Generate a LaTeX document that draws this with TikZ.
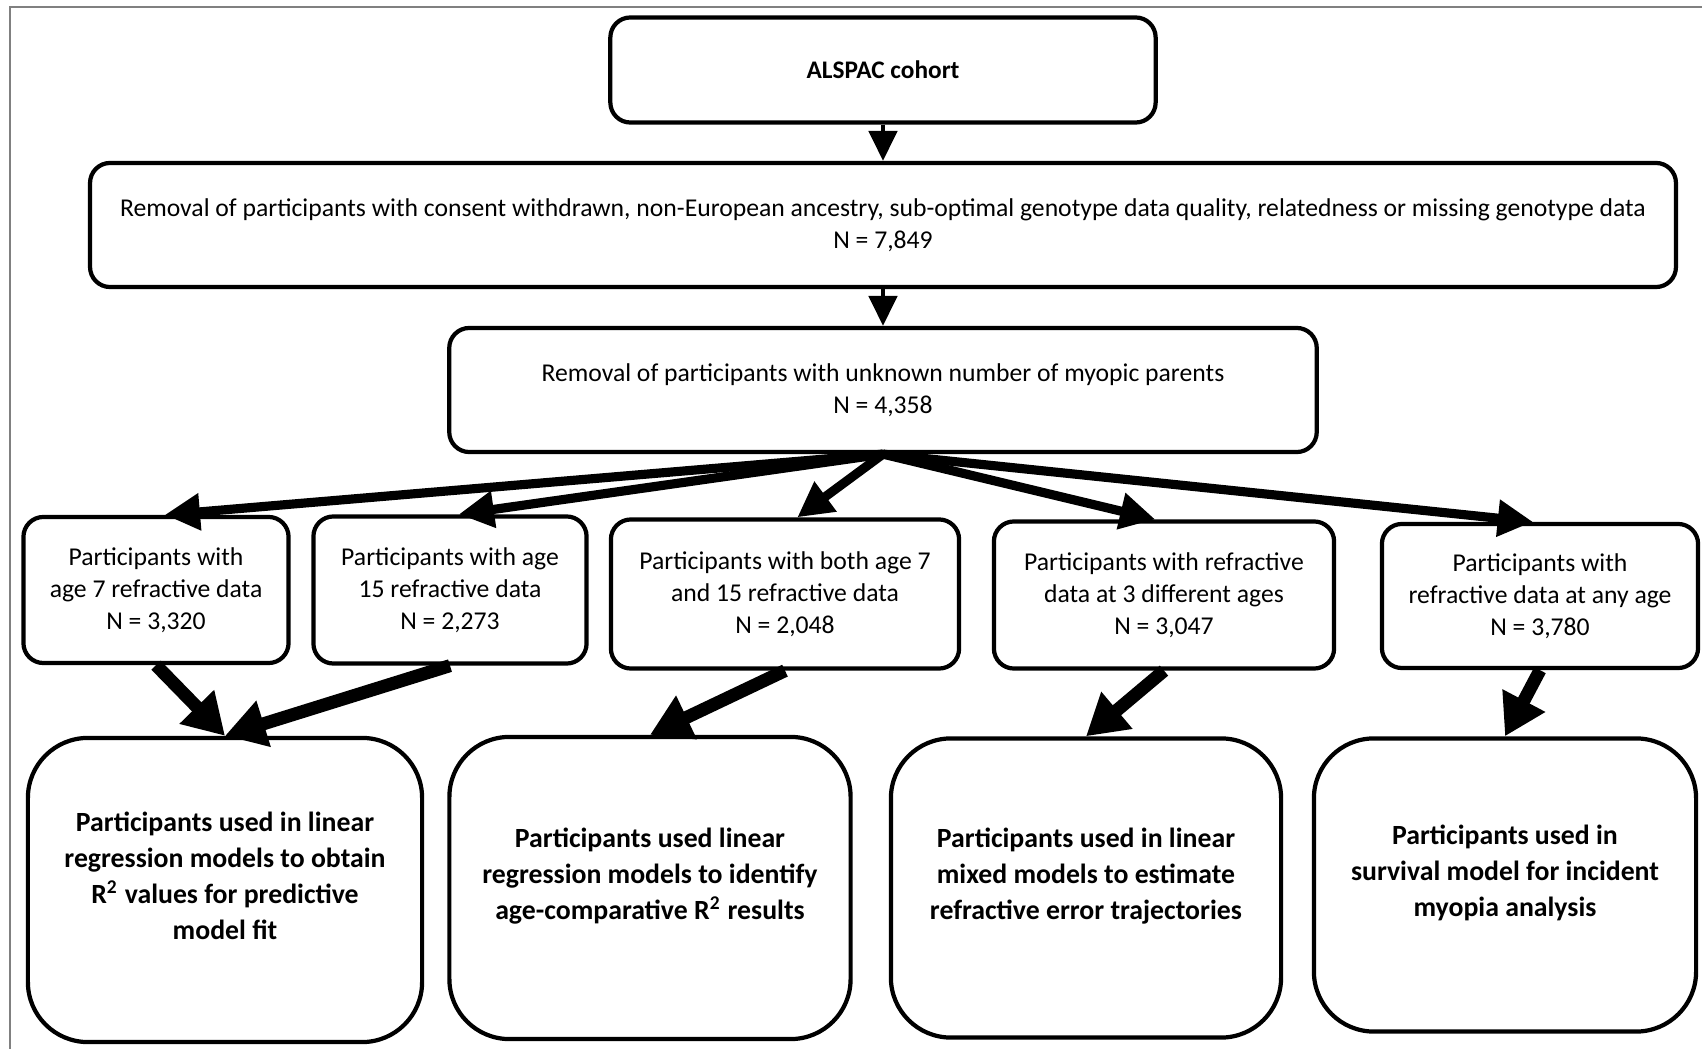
\documentclass[tikz,border=0pt]{standalone}
\usepackage{fontspec}
\setmainfont{Carlito}
\usetikzlibrary{arrows.meta}
\begin{document}
\begin{tikzpicture}[x=0.01cm, y=-0.01cm,
  box/.style={draw, line width=1.2pt, rounded corners=0.2cm, align=center, inner sep=0pt, font=\fontsize{7.3}{9.1}\selectfont},
  bigbox/.style={box, rounded corners=0.6cm, text depth=8pt, font=\fontsize{7.9}{10.2}\selectfont\bfseries},
  thin arrow/.style={-{Triangle[length=8.5pt,width=8pt]}, line width=1.2pt},
  fan arrow/.style={-{Triangle[length=10pt,width=10pt]}, line width=2.6pt},
  fat arrow/.style={-{Triangle[length=11.5pt,width=13pt]}, line width=3.7pt}]
\useasboundingbox (0,0) rectangle (1702,1049);
\draw[gray, line width=0.6pt] (10,1049) -- (10,7) -- (1702,7);
\node[box, minimum width=5.45cm, minimum height=1.05cm, font=\fontsize{7.2}{9}\selectfont\bfseries] (alspac) at (883,70) {ALSPAC cohort};
\node[box, minimum width=15.85cm, minimum height=1.24cm] (qc) at (883,225) {Removal of participants with consent withdrawn, non-European ancestry, sub-optimal genotype data quality, relatedness or missing genotype data\\N = 7,849};
\node[box, minimum width=8.67cm, minimum height=1.24cm] (parents) at (883,390) {Removal of participants with unknown number of myopic parents\\N = 4,358};
\node[box, minimum width=2.65cm, minimum height=1.46cm] (age7) at (156,590) {Participants with\\age 7 refractive data\\N = 3,320};
\node[box, minimum width=2.73cm, minimum height=1.47cm] (age15) at (450,590) {Participants with age\\15 refractive data\\N = 2,273};
\node[box, minimum width=3.48cm, minimum height=1.49cm] (both) at (785,594) {Participants with both age 7\\and 15 refractive data\\N = 2,048};
\node[box, minimum width=3.40cm, minimum height=1.47cm] (three) at (1164,595) {Participants with refractive\\data at 3 different ages\\N = 3,047};
\node[box, minimum width=3.16cm, minimum height=1.44cm] (any) at (1540,596) {Participants with\\refractive data at any age\\N = 3,780};
\node[bigbox, minimum width=3.94cm, minimum height=3.04cm] (fit) at (225,890) {Participants used in linear\\regression models to obtain\\R\textsuperscript{2} values for predictive\\model fit};
\node[bigbox, minimum width=4.01cm, minimum height=3.02cm] (compare) at (650,888) {Participants used linear\\regression models to identify\\age-comparative R\textsuperscript{2} results};
\node[bigbox, minimum width=3.90cm, minimum height=2.99cm] (traj) at (1086,888) {Participants used in linear\\mixed models to estimate\\refractive error trajectories};
\node[bigbox, minimum width=3.82cm, minimum height=2.93cm] (surv) at (1505,885) {Participants used in\\survival model for incident\\myopia analysis};
\draw[thin arrow] (alspac.south) -- (qc.north);
\draw[thin arrow] (qc.south) -- (parents.north);
\draw[fan arrow] (parents.south) -- ([xshift=2.5pt]age7.north);
\draw[fan arrow] (parents.south) -- ([xshift=2.5pt]age15.north);
\draw[fan arrow] (parents.south) -- ([xshift=3.5pt]both.north);
\draw[fan arrow] (parents.south) -- ([xshift=-2.5pt]three.north);
\draw[fan arrow] (parents.south) -- ([xshift=-2pt]any.north);
\draw[fat arrow] (age7.south) -- (fit.north);
\draw[fat arrow] (age15.south) -- (fit.north);
\draw[fat arrow] (both.south) -- (compare.north);
\draw[fat arrow] (three.south) -- (traj.north);
\draw[fat arrow] (any.south) -- (surv.north);
\end{tikzpicture}
\end{document}
